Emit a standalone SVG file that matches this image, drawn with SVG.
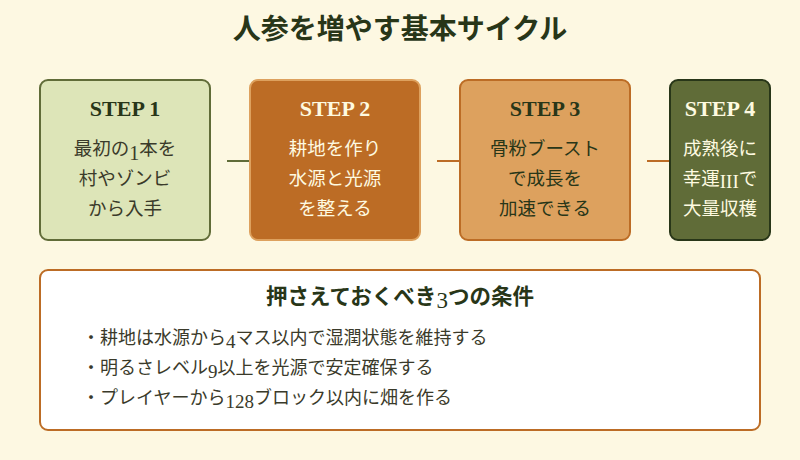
<svg xmlns="http://www.w3.org/2000/svg" width="800" height="460" viewBox="0 0 800 460">
<style>
.t{font-family:"Noto Sans CJK JP","Noto Sans",sans-serif}
.s{font-family:"Liberation Serif",serif;font-weight:bold;font-size:22px;text-anchor:middle}
.b{font-size:18.5px;text-anchor:middle}
.n{font-family:"Liberation Serif",serif;font-weight:normal}
.c{stroke-width:2;fill:none}
</style>
<rect width="800" height="460" fill="#fdf8e2"/>
<text class="t" x="400" y="39" text-anchor="middle" font-size="28" font-weight="bold" fill="#283618">人参を増やす基本サイクル</text>
<g id="connectors">
<line class="c" x1="227" y1="161" x2="250" y2="161" stroke="#606c38"/>
<line class="c" x1="437" y1="161" x2="460" y2="161" stroke="#bc6c25"/>
<line class="c" x1="647" y1="161" x2="670" y2="161" stroke="#bc6c25"/>
</g>
<g id="step1">
<rect x="40" y="80" width="170" height="160" rx="8" fill="#dde5b8" stroke="#606c38" stroke-width="2"/>
<text class="s" x="125" y="116" fill="#283618">STEP 1</text>
<g class="t b" fill="#3a3a2a"><text x="125" y="155">最初の<tspan class="n" font-size="20" dy="5">1</tspan><tspan dy="-5">本を</tspan></text><text x="125" y="185">村やゾンビ</text><text x="125" y="215">から入手</text></g>
</g>
<g id="step2">
<rect x="250" y="80" width="170" height="160" rx="8" fill="#bc6c25" stroke="#dda15e" stroke-width="2"/>
<text class="s" x="335" y="116" fill="#fefae0">STEP 2</text>
<g class="t b" fill="#fefae0"><text x="335" y="155">耕地を作り</text><text x="335" y="185">水源と光源</text><text x="335" y="215">を整える</text></g>
</g>
<g id="step3">
<rect x="460" y="80" width="170" height="160" rx="8" fill="#dda15e" stroke="#bc6c25" stroke-width="2"/>
<text class="s" x="545" y="116" fill="#283618">STEP 3</text>
<g class="t b" fill="#283618"><text x="545" y="155">骨粉ブースト</text><text x="545" y="185">で成長を</text><text x="545" y="215">加速できる</text></g>
</g>
<g id="step4">
<rect x="670" y="80" width="100" height="160" rx="8" fill="#606c38" stroke="#283618" stroke-width="2"/>
<text class="s" x="720" y="116" fill="#fefae0">STEP 4</text>
<g class="t b" fill="#fefae0"><text x="720" y="155">成熟後に</text><text x="720" y="185">幸運<tspan class="n" font-size="19" dy="3">III</tspan><tspan dy="-3">で</tspan></text><text x="720" y="215">大量収穫</text></g>
</g>
<g id="notes">
<rect x="40" y="270" width="720" height="160" rx="8" fill="#ffffff" stroke="#bc6c25" stroke-width="2"/>
<text class="t" x="400" y="304" text-anchor="middle" font-size="21.5" font-weight="bold" fill="#283618">押さえておくべき<tspan class="n" font-size="23" dy="4">3</tspan><tspan dy="-4">つの条件</tspan></text>
<g class="t" font-size="18" fill="#3a3a2a">
<text x="82" y="344">・耕地は水源から<tspan class="n" font-size="19" dy="4">4</tspan><tspan dy="-4">マス以内で湿潤状態を維持する</tspan></text>
<text x="82" y="374">・明るさレベル<tspan class="n" font-size="19" dy="4">9</tspan><tspan dy="-4">以上を光源で安定確保する</tspan></text>
<text x="82" y="404">・プレイヤーから<tspan class="n" font-size="19" dy="4">128</tspan><tspan dy="-4">ブロック以内に畑を作る</tspan></text>
</g>
</g>
</svg>
